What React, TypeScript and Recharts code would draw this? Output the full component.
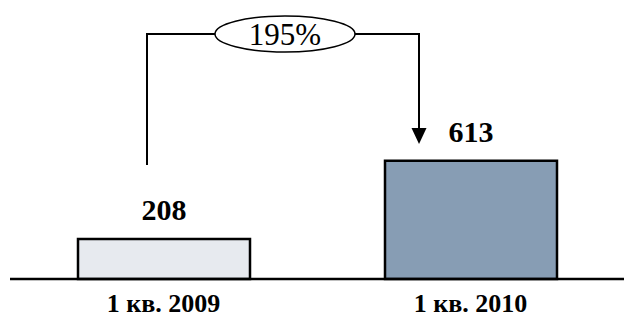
import { BarChart, Bar, XAxis, YAxis, Cell, LabelList } from "recharts";

const periods = ["1 кв. 2009", "1 кв. 2010"];
const values = [208, 613];
const colors = ["#e7eaef", "#879db4"];
const growthLabel = "195%";

const data = periods.map((p, i) => ({ period: p, value: values[i] }));

const serif = "'Liberation Serif', 'Times New Roman', serif";

export default function App() {
  return (
    <div style={{ position: "absolute", left: 0, top: 0, width: 624, height: 317, background: "#fff" }}>
      <BarChart
        width={624}
        height={317}
        data={data}
        margin={{ top: 144, right: 0, left: 10, bottom: 8 }}
        barCategoryGap={0}
      >
        <YAxis hide domain={[0, 700]} />
        <XAxis
          dataKey="period"
          height={30}
          axisLine={{ stroke: "#000", strokeWidth: 2.5 }}
          tickLine={false}
          tickSize={0}
          tickMargin={15}
          tick={{ fontSize: 26, fontWeight: "bold", fill: "#000", fontFamily: serif }}
        />
        <Bar dataKey="value" barSize={172} stroke="#000" strokeWidth={2.5} isAnimationActive={false}>
          {data.map((d, i) => (
            <Cell key={d.period} fill={colors[i]} />
          ))}
          <LabelList
            dataKey="value"
            position="top"
            offset={19}
            style={{ fontSize: 30, fontWeight: "bold", fill: "#000", fontFamily: serif }}
          />
        </Bar>
      </BarChart>
      {/* growth bracket */}
      <svg width={624} height={317} style={{ position: "absolute", left: 0, top: 0, pointerEvents: "none" }}>
        <polyline points="147,165 147,34 215,34" fill="none" stroke="#000" strokeWidth={2} />
        <polyline points="355,34 419,34 419,130" fill="none" stroke="#000" strokeWidth={2} />
        <polygon points="411.5,128 426.5,128 419,144" fill="#000" />
        <ellipse cx={285} cy={34} rx={70} ry={18} fill="#fff" stroke="#000" strokeWidth={1.5} />
        <text x={285} y={34} dy="0.35em" textAnchor="middle" fontSize={31} fontFamily={serif} fill="#000">
          {growthLabel}
        </text>
      </svg>
    </div>
  );
}
